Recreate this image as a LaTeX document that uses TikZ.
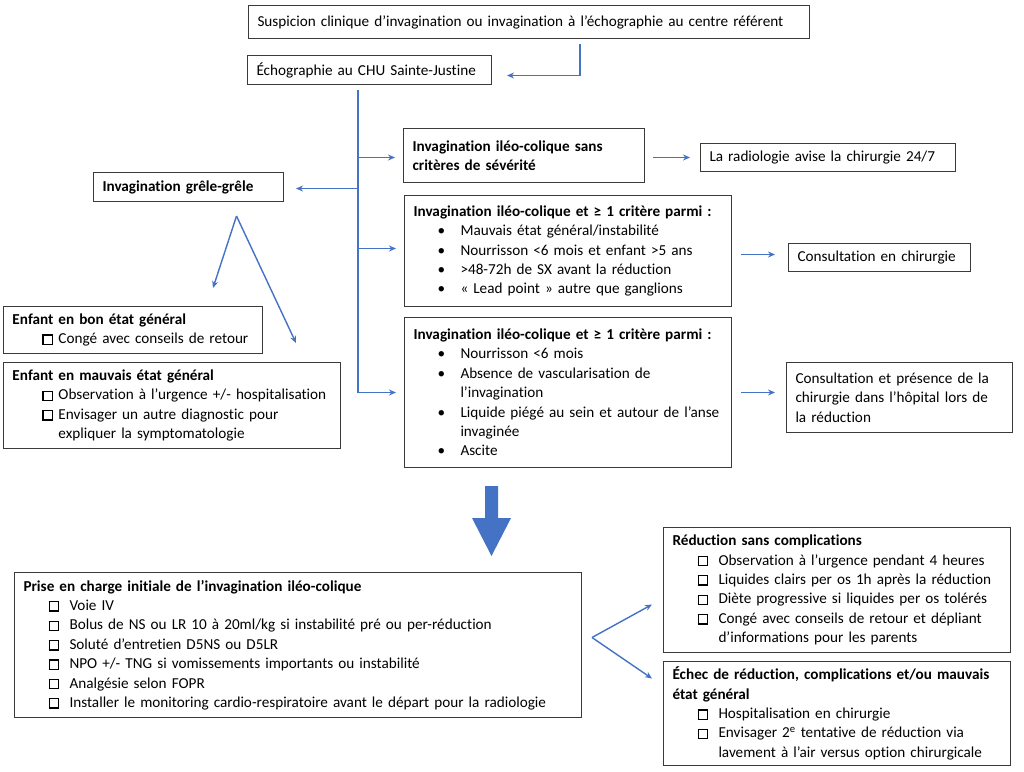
\documentclass[tikz,border=0pt]{standalone}
\usepackage{fontspec}
\setmainfont{Carlito}[Ligatures={NoCommon}]
\usetikzlibrary{arrows.meta,calc}
\definecolor{arrowblue}{HTML}{4472C4}
\definecolor{boxline}{HTML}{3A3A3A}
\newcommand\chk{\raisebox{0pt}{\setlength\fboxsep{0pt}\setlength\fboxrule{1.3pt}\fbox{\rule{0pt}{8pt}\rule{8pt}{0pt}}}}
\newcommand\chkitem[2][25pt]{\mbox{\makebox[46pt][l]{\hspace*{#1}\chk}#2}}
\newcommand\chkcont[1]{\mbox{\hspace*{46pt}#1}}
\newcommand\bulitem[1]{\mbox{\makebox[47pt][l]{\hspace*{24pt}•}#1}}
\newcommand\bulcont[1]{\mbox{\hspace*{47pt}#1}}
\newcommand\hd[1]{\mbox{\textbf{#1}}}
\tikzset{
  box/.style={draw=boxline, line width=1pt, anchor=north west, align=left,
    inner xsep=9pt, inner ysep=0pt, font=\fontsize{15.2}{19.4}\selectfont},
  conn/.style={draw=arrowblue, line width=1.4pt, -{Stealth[length=7pt,width=6pt]}},
  trunk/.style={draw=arrowblue, line width=1.4pt}
}
\begin{document}
\begin{tikzpicture}[x=1pt,y=-1pt]
\useasboundingbox[fill=white] (0,0) rectangle (1024,771);

\node[box, minimum width=561pt, text width=543pt, minimum height=33pt] (top) at (248,5)
  {\mbox{Suspicion clinique d’invagination ou invagination à l’échographie au centre référent}};
\node[box, minimum width=244pt, text width=226pt, minimum height=29pt] (echo) at (247,55)
  {\mbox{Échographie au CHU Sainte-Justine}};
\node[box, minimum width=190pt, text width=172pt, minimum height=29pt] (grele) at (93,172)
  {\hd{Invagination grêle-grêle}};
\node[box, minimum width=241pt, text width=223pt, minimum height=54pt] (ileo) at (403,128)
  {\hd{Invagination iléo-colique sans}\\\hd{critères de sévérité}};
\node[box, minimum width=255pt, text width=237pt, minimum height=28pt] (radio) at (700,143)
  {\mbox{La radiologie avise la chirurgie 24/7}};
\node[box, minimum width=327pt, text width=309pt, minimum height=111pt] (crit1) at (404,195)
  {\hd{Invagination iléo-colique et ≥ 1 critère parmi :}\\
   \bulitem{Mauvais état général/instabilité}\\
   \bulitem{Nourrisson <6 mois et enfant >5 ans}\\
   \bulitem{>48-72h de SX avant la réduction}\\
   \bulitem{« Lead point » autre que ganglions}};
\node[box, minimum width=182pt, text width=164pt, minimum height=28pt] (consult1) at (788,243)
  {\mbox{Consultation en chirurgie}};
\node[box, minimum width=327pt, text width=309pt, minimum height=150pt] (crit2) at (404,317)
  {\hd{Invagination iléo-colique et ≥ 1 critère parmi :}\\
   \bulitem{Nourrisson <6 mois}\\
   \bulitem{Absence de vascularisation de}\\
   \bulcont{l’invagination}\\
   \bulitem{Liquide piégé au sein et autour de l’anse}\\
   \bulcont{invaginée}\\
   \bulitem{Ascite}};
\node[box, minimum width=226pt, text width=208pt, minimum height=70pt] (consult2) at (786,362)
  {\mbox{Consultation et présence de la}\\\mbox{chirurgie dans l’hôpital lors de}\\\mbox{la réduction}};
\node[box, minimum width=259pt, text width=241pt, minimum height=47pt] (bon) at (3,306)
  {\hd{Enfant en bon état général}\\
   \chkitem[30pt]{Congé avec conseils de retour}};
\node[box, minimum width=337pt, text width=319pt, minimum height=86pt] (mauvais) at (3,362)
  {\hd{Enfant en mauvais état général}\\
   \chkitem[30pt]{Observation à l’urgence +/- hospitalisation}\\
   \chkitem[30pt]{Envisager un autre diagnostic pour}\\
   \chkcont{expliquer la symptomatologie}};
\node[box, minimum width=567pt, text width=549pt, minimum height=145pt] (prise) at (14,572)
  {\hd{Prise en charge initiale de l’invagination iléo-colique}\\
   \chkitem{Voie IV}\\
   \chkitem{Bolus de NS ou LR 10 à 20ml/kg si instabilité pré ou per-réduction}\\
   \chkitem{Soluté d’entretien D5NS ou D5LR}\\
   \chkitem{NPO +/- TNG si vomissements importants ou instabilité}\\
   \chkitem{Analgésie selon FOPR}\\
   \chkitem{Installer le monitoring cardio-respiratoire avant le départ pour la radiologie}};
\node[box, minimum width=347pt, text width=329pt, minimum height=125pt] (reduc) at (663,527)
  {\hd{Réduction sans complications}\\
   \chkitem{Observation à l’urgence pendant 4 heures}\\
   \chkitem{Liquides clairs per os 1h après la réduction}\\
   \chkitem{Diète progressive si liquides per os tolérés}\\
   \chkitem{Congé avec conseils de retour et dépliant}\\
   \chkcont{d’informations pour les parents}};
\node[box, minimum width=347pt, text width=329pt, minimum height=104pt] (echec) at (663,661)
  {\hd{Échec de réduction, complications et/ou mauvais}\\
   \hd{état général}\\
   \chkitem{Hospitalisation en chirurgie}\\
   \chkitem{Envisager 2\textsuperscript{e} tentative de réduction via}\\
   \chkcont{lavement à l’air versus option chirurgicale}};

% top -> echo
\draw[conn] ($(top.south west)+(332,5)$) |- ($(echo.east)+(15,5.5)$);
% trunk
\coordinate (trunktop) at ($(echo.south west)+(111,5)$);
\coordinate (trunkbot) at (trunktop |- crit2.west);
\draw[trunk] (trunktop) -- (trunkbot);
\draw[conn] ($(trunktop |- grele.east)+(0,1.5)$) -- ($(grele.east)+(12,1.5)$);
\draw[conn] ($(trunktop |- ileo.west)+(0,2)$) -- ($(ileo.west)+(-8,2)$);
\draw[conn] ($(trunktop |- crit1.west)+(0,-2.5)$) -- ($(crit1.west)+(-8,-2.5)$);
\draw[conn] (trunkbot) -- ($(crit2.west)+(-8,0)$);
% right side arrows
\draw[conn] ($(ileo.east |- radio.west)+(8,0)$) -- ($(radio.west)+(-10,0)$);
\draw[conn] ($(crit1.east |- consult1.west)+(9,-3)$) -- ($(consult1.west)+(-13,-3)$);
\draw[conn] ($(crit2.east)+(9,0)$) -- ($(crit2.east -| consult2.west)+(-11,0)$);
% grele branches
\coordinate (gapex) at ($(grele.south)+(48,14)$);
\draw[conn] (gapex) -- ($(bon.north)+(80,-18)$);
\draw[conn] (gapex) -- ($(bon.north east)+(33,37)$);
% big arrow
\fill[arrowblue] (485,486) -- (498,486) -- (498,518) -- (511,518) -- (491.5,556) -- (472,518) -- (485,518) -- cycle;
% prise branches
\coordinate (papex) at ($(prise.east)+(10,-7.5)$);
\draw[conn] (papex) -- ($(reduc.west)+(-11,14.5)$);
\draw[conn] (papex) -- ($(echec.west)+(-11,-35)$);
\end{tikzpicture}
\end{document}
